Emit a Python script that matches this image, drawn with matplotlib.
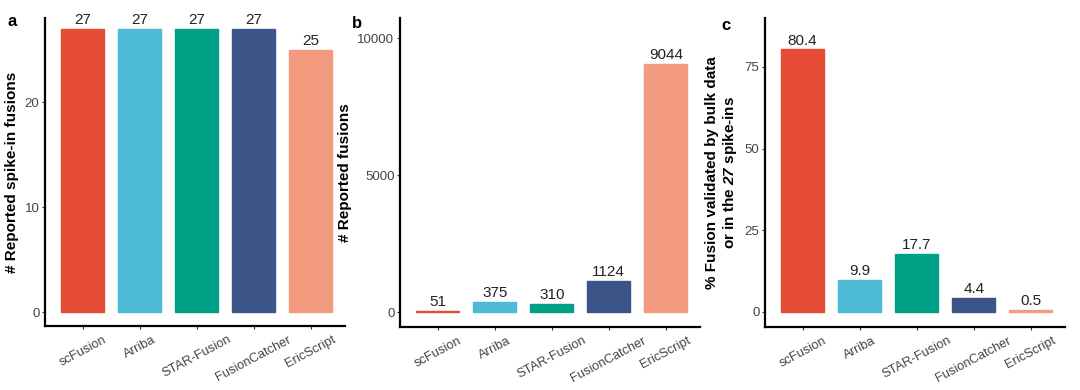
import matplotlib.pyplot as plt
import numpy as np

plt.rcParams['font.family'] = ['Liberation Sans', 'DejaVu Sans']
plt.rcParams['mathtext.fontset'] = 'custom'
plt.rcParams['mathtext.rm'] = 'Liberation Sans'
plt.rcParams['mathtext.bf'] = 'Liberation Sans:bold'
plt.rcParams['mathtext.bfit'] = 'Liberation Sans:italic:bold'

tools = ["scFusion", "Arriba", "STAR-Fusion", "FusionCatcher", "EricScript"]
colors = ["#E64B35", "#4DBBD5", "#00A087", "#3C5488", "#F39B7F"]

spikein = [27, 27, 27, 27, 25]
spikein_lbl = ["27", "27", "27", "27", "25"]
reported = [51, 375, 310, 1124, 9044]
reported_lbl = ["51", "375", "310", "1124", "9044"]
validated = [80.4, 9.9, 17.7, 4.4, 0.5]
validated_lbl = ["80.4", "9.9", "17.7", "4.4", "0.5"]

fig = plt.figure(figsize=(10.8, 3.9), dpi=100)
W, H = 1080, 390

def make_ax(x0, x1, y0, y1):
    return fig.add_axes([x0 / W, 1 - y1 / H, (x1 - x0) / W, (y1 - y0) / H])

axes = [make_ax(45, 345, 18, 326), make_ax(400, 700, 18, 327), make_ax(765, 1065, 18, 327)]
data = [(spikein, spikein_lbl, (-1.33, 28.0), [0, 10, 20], "# Reported spike-in fusions"),
        (reported, reported_lbl, (-547, 10730), [0, 5000, 10000], "# Reported fusions"),
        (validated, validated_lbl, (-4.6, 90), [0, 25, 50, 75],
         "% Fusion validated by bulk data\nor in the $\\mathbfit{27}$ spike-ins")]

x = np.arange(len(tools))
for ax, (vals, lbls, ylim, yt, ylab) in zip(axes, data):
    ax.bar(x, vals, width=0.76, color=colors, edgecolor=colors, linewidth=1.0)
    for xi, v, l in zip(x, vals, lbls):
        ax.text(xi, v + (ylim[1] - ylim[0]) * 0.006, l, ha="center", va="bottom",
                fontsize=11, color="#222222")
    ax.set_xlim(-0.66, 4.6)
    ax.set_ylim(*ylim)
    ax.set_yticks(yt)
    ax.set_yticklabels([str(t) for t in yt], fontsize=9.5, color="#444444")
    ax.set_xticks(x)
    ax.set_xticklabels(tools, rotation=28, ha="center", fontsize=9.3, color="#444444")
    ax.tick_params(axis="both", length=2.5, width=0.8, color="#333333", pad=1.5)
    ax.tick_params(axis="x", pad=3)
    for s in ["top", "right"]:
        ax.spines[s].set_visible(False)
    for s in ["left", "bottom"]:
        ax.spines[s].set_linewidth(1.6)
        ax.spines[s].set_color("black")
    ax.set_ylabel(ylab, fontsize=11, fontweight="bold", labelpad=4)

fig.text(8 / W, 1 - 22 / H, "a", fontsize=12, fontweight="bold", va="center")
fig.text(352 / W, 1 - 24 / H, "b", fontsize=12, fontweight="bold", va="center")
fig.text(721 / W, 1 - 26 / H, "c", fontsize=12, fontweight="bold", va="center")

fig.savefig("out.png", dpi=100)
